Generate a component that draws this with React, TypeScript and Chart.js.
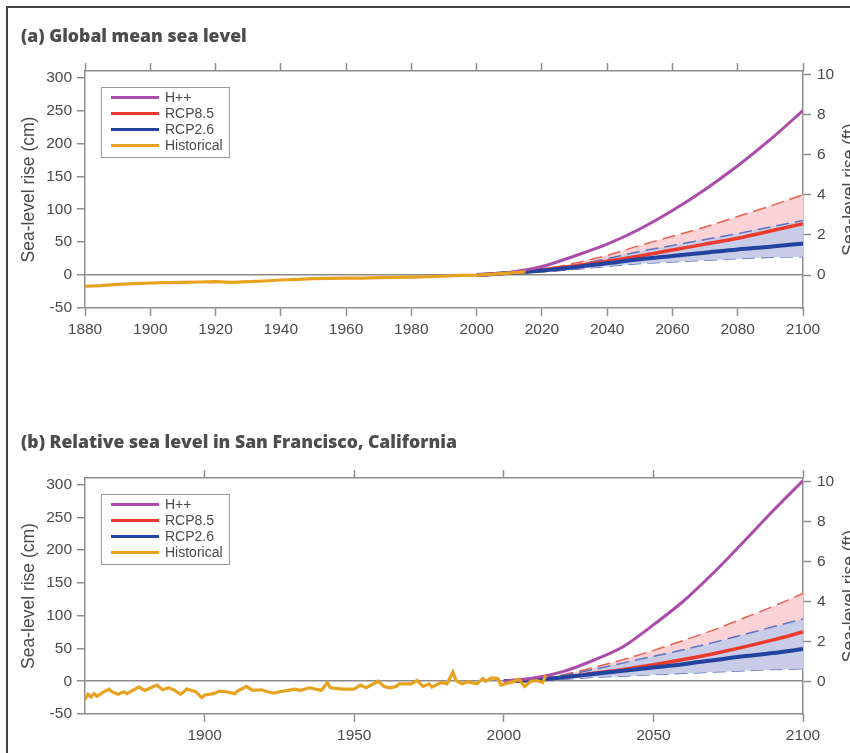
import React, { useEffect, useRef } from 'react';
import { Chart, registerables } from 'chart.js';

Chart.register(...registerables);

// ---------- shared labels / ticks ----------
const legendLabels = ['H++', 'RCP8.5', 'RCP2.6', 'Historical'];
const yTitleLeft = 'Sea-level rise (cm)';
const yTitleRight = 'Sea-level rise (ft)';
const cmTicks = [-50, 0, 50, 100, 150, 200, 250, 300];
const ftTicks = [0, 2, 4, 6, 8, 10];
const cmMin = -50;
const cmMax = 310;
const cmPerFt = 30.48;

// ---------- panel (a) Global mean sea level ----------
const titleA = '(a) Global mean sea level';
const xTicksA = [1880, 1900, 1920, 1940, 1960, 1980, 2000, 2020, 2040, 2060, 2080, 2100];
const histYearsA = [1880, 1885, 1890, 1895, 1900, 1905, 1910, 1915, 1920, 1925, 1930, 1935, 1940, 1945, 1950, 1955, 1960, 1965, 1970, 1975, 1980, 1985, 1990, 1995, 2000, 2005, 2010, 2015];
const histA = [-17, -16, -14, -13, -12, -11.5, -11, -10.5, -10, -11, -10, -9, -7.5, -6.5, -5.5, -5, -4.5, -4.5, -4, -3.5, -3, -2.5, -1.5, -0.5, 0, 1.5, 3, 5];
const projYearsA = [2000, 2010, 2020, 2030, 2040, 2050, 2060, 2070, 2080, 2090, 2100];
const hppA = [0, 4, 13, 29, 47, 70, 98, 130, 166, 206, 250];
const rcp85MedA = [0, 3, 8, 14, 21, 29, 38, 47, 56, 67, 78];
const rcp85LoA = [0, 2, 5, 9, 14, 19, 25, 31, 38, 45, 52];
const rcp85HiA = [0, 3, 9, 18, 30, 45, 59, 73, 89, 105, 122];
const rcp26MedA = [0, 3, 7, 12, 18, 24, 29, 34, 39, 43, 48];
const rcp26LoA = [0, 2, 5, 9, 13.5, 17.5, 20, 22.5, 25, 27, 28];
const rcp26HiA = [0, 3, 8, 15, 25, 36, 45, 54, 63, 73, 83];

// ---------- panel (b) San Francisco ----------
const titleB = '(b) Relative sea level in San Francisco, California';
const xTicksB = [1900, 1950, 2000, 2050, 2100];
const histYearsB = [1860, 1861, 1862, 1863, 1864, 1866, 1868, 1869, 1871, 1873, 1874, 1876, 1878, 1880, 1882, 1884, 1886, 1888, 1890, 1892, 1894, 1897, 1899, 1900, 1903, 1905, 1907, 1910, 1911, 1914, 1916, 1919, 1921, 1923, 1925, 1928, 1930, 1932, 1935, 1939, 1941, 1942, 1946, 1950, 1952, 1954, 1958, 1960, 1962, 1964, 1965, 1969, 1971, 1973, 1975, 1976, 1979, 1981, 1983, 1984, 1986, 1988, 1991, 1993, 1994, 1996, 1998, 1999, 2001, 2003, 2005, 2007, 2009, 2011, 2013, 2014];
const histB = [-28, -20, -24, -19, -23, -17, -12, -16, -20, -16, -19, -14, -9, -14, -10, -6, -13, -10, -14, -20, -12, -16, -25, -21, -19, -15, -16, -19, -15, -8, -14, -13, -16, -18, -16, -14, -12, -14, -10, -14, -2, -10, -12, -12, -6, -10, 0, -8, -10, -8, -4, -4, 1, -8, -4, -9, -2, -4, 14, 1, -4, -1, -4, 4, 0, 5, 4, -6, -3, -1, 3, -8, 0, 1, -2, 9];
const projYearsB = [2000, 2010, 2020, 2030, 2040, 2050, 2060, 2070, 2080, 2090, 2100];
const hppB = [0, 5, 15, 32, 53, 86, 122, 165, 212, 260, 306];
const rcp85MedB = [0, 2, 6, 12, 18, 25, 33, 42, 52, 63, 75];
const rcp85LoB = [0, 1, 4, 8, 11, 14, 20, 24, 28, 31, 34];
const rcp85HiB = [0, 3, 10, 21, 33, 47, 62, 78, 96, 114, 134];
const rcp26MedB = [0, 2, 6, 11, 16, 21, 26, 32, 38, 43, 49];
const rcp26LoB = [0, 1, 3, 6, 8, 10, 12, 14, 16, 18, 19];
const rcp26HiB = [0, 3, 9, 18, 28, 38, 48, 59, 71, 83, 95];

// ---------- styles ----------
const cHpp = '#aa4ca9';
const c85 = '#ee3a2a';
const c26 = '#2443a0';
const cHist = '#e7a21f';
const c85Dash = '#e8604e';
const c26Dash = '#5d73bd';
const pinkFill = '#fbd3d7';
const blueFill = '#c8cce7';
const legendColors = [cHpp, c85, c26, cHist];
const axisColor = '#8e8e8e';
const textColor = '#4a4a4a';
const fontFam = '"Liberation Sans", Arial, sans-serif';

const pts = (xs: number[], ys: number[]) => xs.map((x, i) => ({ x, y: ys[i] }));

const overlayPlugin = {
  id: 'overlay',
  afterDraw(chart: any) {
    const { ctx, chartArea: a } = chart;
    const mid = (a.top + a.bottom) / 2;
    ctx.save();
    ctx.fillStyle = textColor;
    ctx.font = `17.5px ${fontFam}`;
    ctx.textAlign = 'center';
    ctx.textBaseline = 'middle';
    ctx.translate(29, mid);
    ctx.rotate(-Math.PI / 2);
    ctx.fillText(yTitleLeft, 0, 0);
    ctx.restore();

    ctx.save();
    ctx.fillStyle = textColor;
    ctx.font = `17.5px ${fontFam}`;
    ctx.textAlign = 'center';
    ctx.textBaseline = 'middle';
    ctx.translate(850, mid);
    ctx.rotate(-Math.PI / 2);
    ctx.fillText(yTitleRight, 0, 0);
    ctx.restore();

    // legend box
    const bx = a.left + 16;
    const by = a.top + 16;
    ctx.save();
    ctx.fillStyle = '#ffffff';
    ctx.fillRect(bx, by, 128, 70);
    ctx.strokeStyle = '#9a9a9a';
    ctx.lineWidth = 1;
    ctx.strokeRect(bx + 0.5, by + 0.5, 128, 70);
    ctx.font = `14px ${fontFam}`;
    ctx.textAlign = 'left';
    ctx.textBaseline = 'middle';
    legendLabels.forEach((lab, i) => {
      const y = by + 10.5 + i * 16;
      ctx.strokeStyle = legendColors[i];
      ctx.lineWidth = 3;
      ctx.beginPath();
      ctx.moveTo(bx + 10, y);
      ctx.lineTo(bx + 58, y);
      ctx.stroke();
      ctx.fillStyle = textColor;
      ctx.fillText(lab, bx + 64, y + 0.5);
    });
    ctx.restore();
  },
};

type PanelData = {
  xMin: number;
  xMax: number;
  xTicks: number[];
  histYears: number[];
  hist: number[];
  projYears: number[];
  hpp: number[];
  med85: number[];
  lo85: number[];
  hi85: number[];
  med26: number[];
  lo26: number[];
  hi26: number[];
  tension: number;
  padTop: number;
  padBottom: number;
};

function makeConfig(d: PanelData): any {
  const common = { pointRadius: 0, pointHoverRadius: 0, tension: d.tension, cubicInterpolationMode: d.tension > 0 ? 'monotone' : 'default' };
  const datasets = [
    { label: 'Historical', data: pts(d.histYears, d.hist), borderColor: cHist, borderWidth: 3.2, order: 0, fill: false, ...common, tension: 0, cubicInterpolationMode: 'default' },
    { label: 'H++', data: pts(d.projYears, d.hpp), borderColor: cHpp, borderWidth: 3, order: 1, fill: false, ...common },
    { label: 'RCP2.6', data: pts(d.projYears, d.med26), borderColor: c26, borderWidth: 4, order: 2, fill: false, ...common },
    { label: 'RCP8.5', data: pts(d.projYears, d.med85), borderColor: c85, borderWidth: 3.5, order: 3, fill: false, ...common },
    { label: 'RCP2.6 high', data: pts(d.projYears, d.hi26), borderColor: c26Dash, borderWidth: 1.5, borderDash: [13, 6], backgroundColor: blueFill, fill: 5, order: 4, ...common },
    { label: 'RCP2.6 low', data: pts(d.projYears, d.lo26), borderColor: c26Dash, borderWidth: 1.5, borderDash: [13, 6], fill: false, order: 5, ...common },
    { label: 'RCP8.5 high', data: pts(d.projYears, d.hi85), borderColor: c85Dash, borderWidth: 1.5, borderDash: [13, 6], backgroundColor: pinkFill, fill: 7, order: 6, ...common },
    { label: 'RCP8.5 low', data: pts(d.projYears, d.lo85), borderColor: c85Dash, borderWidth: 1.5, borderDash: [13, 6], fill: false, order: 7, ...common },
  ];
  const border = { display: true, color: axisColor, width: 1.5 };
  const tickFont = { family: fontFam, size: 15.5 };
  return {
    type: 'line',
    data: { datasets },
    plugins: [overlayPlugin],
    options: {
      animation: false,
      responsive: false,
      maintainAspectRatio: false,
      layout: { padding: { left: 0, right: 0, top: d.padTop, bottom: d.padBottom } },
      plugins: { legend: { display: false }, tooltip: { enabled: false }, title: { display: false } },
      scales: {
        x: {
          type: 'linear', position: 'bottom', min: d.xMin, max: d.xMax,
          afterBuildTicks: (s: any) => { s.ticks = d.xTicks.map((v) => ({ value: v })); },
          afterFit: (s: any) => { s.height = 30; },
          ticks: { font: tickFont, color: textColor, padding: 4, maxRotation: 0, autoSkip: false, callback: (v: any) => String(v) },
          grid: { drawOnChartArea: false, drawTicks: true, tickLength: 8, tickColor: axisColor, tickWidth: 1.5 },
          border,
        },
        xTop: {
          type: 'linear', position: 'top', min: d.xMin, max: d.xMax,
          afterBuildTicks: (s: any) => { s.ticks = d.xTicks.map((v) => ({ value: v })); },
          afterFit: (s: any) => { s.height = 8; },
          ticks: { display: false },
          grid: { drawOnChartArea: false, drawTicks: true, tickLength: 8, tickColor: axisColor, tickWidth: 1.5 },
          border,
        },
        y: {
          type: 'linear', position: 'left', min: cmMin, max: cmMax,
          afterBuildTicks: (s: any) => { s.ticks = cmTicks.map((v) => ({ value: v })); },
          afterFit: (s: any) => { s.width = 85; },
          ticks: { font: tickFont, color: textColor, padding: 5, callback: (v: any) => String(v) },
          grid: {
            drawOnChartArea: true, drawTicks: true, tickLength: 8, tickColor: axisColor, tickWidth: 1.5,
            color: (c: any) => (c.tick && c.tick.value === 0 ? '#8a8a8a' : 'rgba(0,0,0,0)'),
            lineWidth: 1.5,
          },
          border,
        },
        yR: {
          type: 'linear', position: 'right', min: cmMin / cmPerFt, max: cmMax / cmPerFt,
          afterBuildTicks: (s: any) => { s.ticks = ftTicks.map((v) => ({ value: v })); },
          afterFit: (s: any) => { s.width = 47; },
          ticks: { font: tickFont, color: textColor, padding: 6, callback: (v: any) => String(v) },
          grid: { drawOnChartArea: false, drawTicks: true, tickLength: 8, tickColor: axisColor, tickWidth: 1.5 },
          border,
        },
      },
    },
  };
}

function Panel({ data, top, height }: { data: PanelData; top: number; height: number }) {
  const ref = useRef<HTMLCanvasElement | null>(null);
  useEffect(() => {
    if (!ref.current) return;
    const chart = new Chart(ref.current, makeConfig(data));
    return () => chart.destroy();
  }, [data]);
  return (
    <canvas
      ref={ref}
      width={850}
      height={height}
      style={{ position: 'absolute', left: 0, top, width: 850, height }}
    />
  );
}

const panelA: PanelData = {
  xMin: 1880, xMax: 2100, xTicks: xTicksA,
  histYears: histYearsA, hist: histA, projYears: projYearsA,
  hpp: hppA, med85: rcp85MedA, lo85: rcp85LoA, hi85: rcp85HiA,
  med26: rcp26MedA, lo26: rcp26LoA, hi26: rcp26HiA,
  tension: 0.4, padTop: 63, padBottom: 22,
};

const panelB: PanelData = {
  xMin: 1860, xMax: 2100, xTicks: xTicksB,
  histYears: histYearsB, hist: histB, projYears: projYearsB,
  hpp: hppB, med85: rcp85MedB, lo85: rcp85LoB, hi85: rcp85HiB,
  med26: rcp26MedB, lo26: rcp26LoB, hi26: rcp26HiB,
  tension: 0.2, padTop: 90, padBottom: 9,
};

const titleStyle: React.CSSProperties = {
  position: 'absolute',
  left: 21,
  fontFamily: '"Open Sans", "Noto Sans", sans-serif',
  fontWeight: 800,
  fontSize: 17.6,
  letterSpacing: '0px',
  lineHeight: '20px',
  color: '#4d4d4d',
  whiteSpace: 'nowrap',
};

export default function App() {
  return (
    <div style={{ position: 'fixed', left: 0, top: 0, width: 850, height: 753, overflow: 'hidden', background: '#fff' }}>
      <div style={{ position: 'absolute', left: 6, top: 6, width: 900, height: 800, borderLeft: '2px solid #444', borderTop: '2px solid #444' }} />
      <Panel data={panelA} top={0} height={360} />
      <Panel data={panelB} top={380} height={373} />
      <div style={{ ...titleStyle, top: 25 }}>{titleA}</div>
      <div style={{ ...titleStyle, top: 431 }}>{titleB}</div>
    </div>
  );
}
